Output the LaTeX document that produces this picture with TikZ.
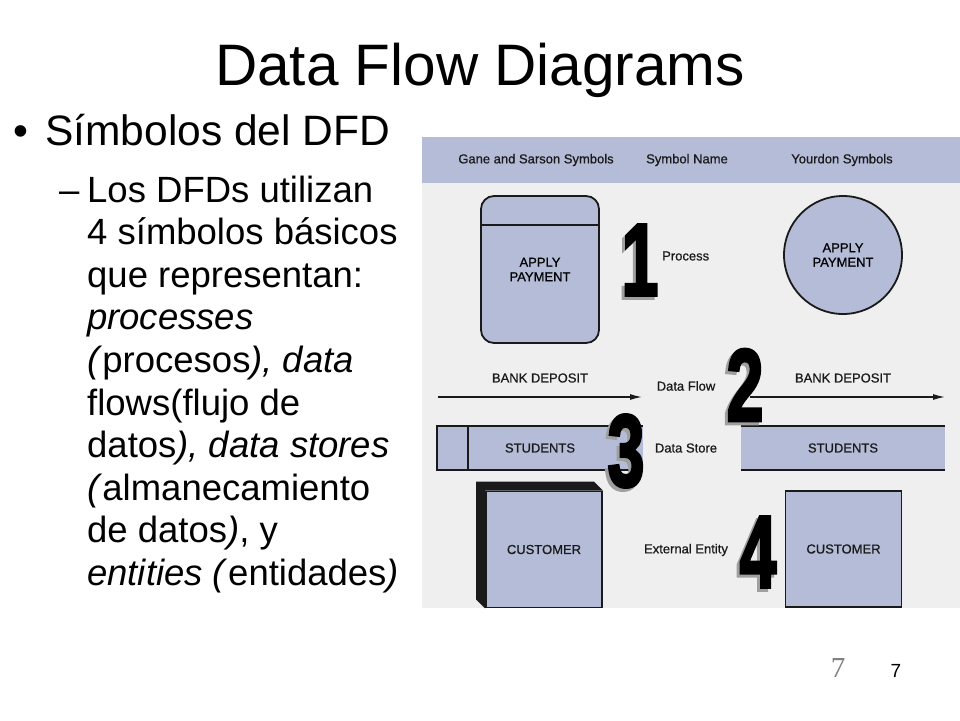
\documentclass[tikz,border=0pt]{standalone}
\usepackage{fontspec}
\setmainfont{Liberation Sans}
\newfontfamily\pagenumfont{Liberation Serif}
\newfontfamily\numfont[BoldFeatures={FakeBold=3.5}]{Liberation Sans}
\newfontfamily\labelfont[FakeBold=0.7]{Liberation Sans}
\usepackage{graphicx}
\usetikzlibrary{arrows.meta}
\definecolor{Lavender}{HTML}{B4BCD8}
\definecolor{PanelGray}{HTML}{EFEFEF}
\definecolor{InkDark}{HTML}{1A1A1A}
\newcommand{\dfdfont}{\labelfont\fontsize{13}{14.5}\selectfont}
\newcommand{\bignum}[1]{\scalebox{0.66}[1.02]{\numfont\fontsize{100}{100}\selectfont\bfseries #1}}
\tikzstyle{Title_Text} = [font=\fontsize{58.5}{64}\selectfont,
                          inner sep=0pt,
                          anchor=base]
\tikzstyle{Bullet_Text} = [font=\fontsize{42.5}{48}\selectfont,
                           inner sep=0pt,
                           anchor=base west]
\tikzstyle{Sub_Text} = [font=\fontsize{36.5}{42.6}\selectfont,
                        inner sep=0pt,
                        anchor=base west]
\tikzstyle{Sym_Label} = [font=\dfdfont,
                         text=InkDark,
                         align=center,
                         inner sep=0pt]
\tikzstyle{GS_Proc} = [rectangle,
                       rounded corners=13pt,
                       minimum width=118pt,
                       minimum height=147pt,
                       draw=InkDark,
                       line width=1.8pt,
                       fill=Lavender,
                       font=\dfdfont,
                       align=center]
\tikzstyle{YD_Proc} = [circle,
                       minimum size=118pt,
                       draw=InkDark,
                       line width=1.8pt,
                       fill=Lavender,
                       font=\dfdfont,
                       align=center]
\tikzstyle{Store_Box} = [rectangle,
                         minimum height=44pt,
                         fill=Lavender,
                         font=\dfdfont,
                         text=InkDark]
\tikzstyle{Ent_Box} = [rectangle,
                       minimum width=116pt,
                       minimum height=116pt,
                       draw=InkDark,
                       line width=1.8pt,
                       fill=Lavender,
                       font=\dfdfont,
                       text=InkDark]
\tikzstyle{Edge_Line} = [draw=InkDark, line width=2pt]
\tikzstyle{Flow_Arrow} = [draw=InkDark,
                          line width=1.3pt,
                          -{Latex[length=12pt, width=6pt]}]
\tikzstyle{Num_Front} = [inner sep=0pt, text=black]
\tikzstyle{Num_Shadow} = [inner sep=0pt, text=gray!75, xshift=-3pt, yshift=-3pt]

\begin{document}
\begin{tikzpicture}[x=1pt, y=-1pt]
        \useasboundingbox (0,0) rectangle (960,720);
        \fill[white] (0,0) rectangle (960,720);

        % title and bullet text
        \node (Title) [Title_Text] at (480,85) {Data Flow Diagrams};
        \node (Bullet) [Bullet_Text] at (13,145) {\textbullet};
        \node (B1) [Bullet_Text] at (45,145) {Símbolos del DFD};
        \node (Dash) [Sub_Text] at (59,202) {\textendash};
        \node (L1) [Sub_Text] at (87,202) {Los DFDs utilizan};
        \node (L2) [Sub_Text] at (87,244.6) {4 símbolos básicos};
        \node (L3) [Sub_Text] at (87,287.2) {que representan:};
        \node (L4) [Sub_Text] at (87,329.8) {\textit{processes}};
        \node (L5) [Sub_Text] at (87,372.4) {\textit{(}procesos\textit{), data}};
        \node (L6) [Sub_Text] at (87,415) {flows(flujo de};
        \node (L7) [Sub_Text] at (87,457.6) {datos\textit{), data stores}};
        \node (L8) [Sub_Text] at (87,500.2) {\textit{(}almanecamiento};
        \node (L9) [Sub_Text] at (87,542.8) {de datos\textit{)}, y};
        \node (L10) [Sub_Text] at (87,585.4) {\textit{entities (}entidades\textit{)}};

        % symbol table
        \fill[PanelGray] (422,137) rectangle (960,608);
        \fill[Lavender] (422,137) rectangle (960,183);
        \node (H_GS) [Sym_Label] at (536,160) {Gane and Sarson Symbols};
        \node (H_Name) [Sym_Label] at (687,160) {Symbol Name};
        \node (H_YD) [Sym_Label] at (842,160) {Yourdon Symbols};

        % process
        \node (GS_Proc) [GS_Proc] at (540,269.5) {APPLY\\PAYMENT};
        \draw[Edge_Line] ([yshift=-30pt]GS_Proc.north west) -- ([yshift=-30pt]GS_Proc.north east);
        \node (YD_Proc) [YD_Proc] at (843,255) {APPLY\\PAYMENT};
        \node (Lbl_Proc) [Sym_Label, anchor=west] at (662,256) {Process};

        % data flow
        \coordinate (GS_Flow_S) at (438,397);
        \coordinate (GS_Flow_E) at (642,397);
        \coordinate (YD_Flow_S) at (750,397);
        \coordinate (YD_Flow_E) at (945,397);
        \draw[Flow_Arrow] (GS_Flow_S) -- (GS_Flow_E);
        \draw[Flow_Arrow] (YD_Flow_S) -- (YD_Flow_E);
        \node (GS_Flow_Lbl) [Sym_Label] at (540,378) {BANK DEPOSIT};
        \node (YD_Flow_Lbl) [Sym_Label] at (843,378) {BANK DEPOSIT};
        \node (Lbl_Flow) [Sym_Label] at (686,386) {Data Flow};

        % data store
        \node (GS_Store) [Store_Box, minimum width=206pt] at (540,448) {STUDENTS};
        \draw[Edge_Line] (GS_Store.north east) -- (GS_Store.north west)
                         -- (GS_Store.south west) -- (GS_Store.south east);
        \draw[Edge_Line] ([xshift=31pt]GS_Store.north west) -- ([xshift=31pt]GS_Store.south west);
        \node (YD_Store) [Store_Box, minimum width=204pt] at (843,448) {STUDENTS};
        \draw[Edge_Line] (YD_Store.north west) -- (YD_Store.north east);
        \draw[Edge_Line] (YD_Store.south west) -- (YD_Store.south east);
        \node (Lbl_Store) [Sym_Label] at (686,448) {Data Store};

        % external entity
        \node (GS_Ent) [Ent_Box] at (544,549.5) {CUSTOMER};
        \fill[InkDark] (GS_Ent.north east) -- ([shift={(-9,-9)}]GS_Ent.north east)
                       -- ([shift={(-9,-9)}]GS_Ent.north west) -- ([shift={(-9,-9)}]GS_Ent.south west)
                       -- (GS_Ent.south west) -- (GS_Ent.north west) -- cycle;
        \node (YD_Ent) [Ent_Box] at (843.5,549) {CUSTOMER};
        \node (Lbl_Ent) [Sym_Label] at (686,550) {External Entity};

        % big numbers
        \node (N1_S) [Num_Shadow] at (640,260) {\bignum{1}};
        \node (N1) [Num_Front] at (640,260) {\bignum{1}};
        \node (N2_S) [Num_Shadow] at (745,385) {\bignum{2}};
        \node (N2) [Num_Front] at (745,385) {\bignum{2}};
        \node (N3_S) [Num_Shadow] at (626,451) {\bignum{3}};
        \node (N3) [Num_Front] at (626,451) {\bignum{3}};
        \node (N4_S) [Num_Shadow] at (758,552) {\bignum{4}};
        \node (N4) [Num_Front] at (758,552) {\bignum{4}};

        % page numbers
        \node (Page_Gray) [inner sep=0pt, text=gray, font=\pagenumfont\fontsize{29}{30}\selectfont] at (838,668) {7};
        \node (Page_Num) [inner sep=0pt, font=\fontsize{19}{20}\selectfont] at (896,671) {7};
\end{tikzpicture}
\end{document}
